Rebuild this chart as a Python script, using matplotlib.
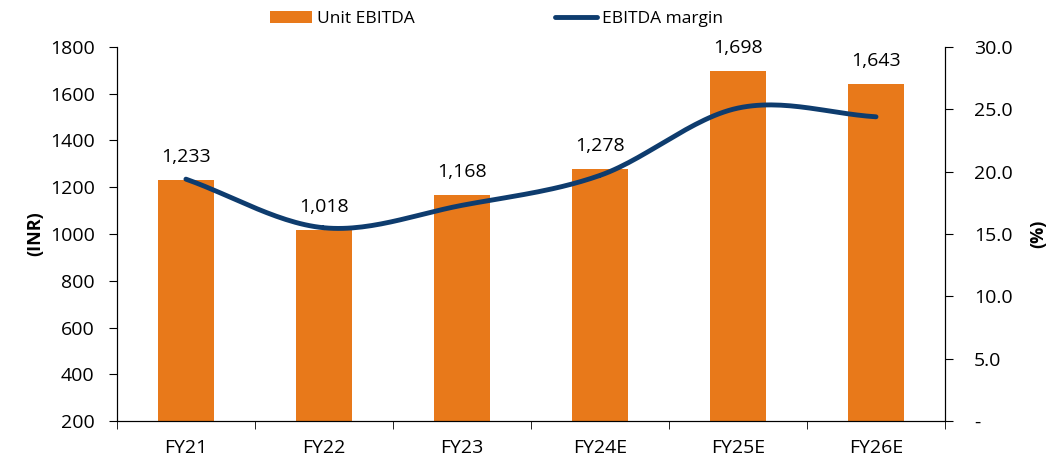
import numpy as np
import matplotlib
matplotlib.use("Agg")
import matplotlib.pyplot as plt
from matplotlib.ticker import FuncFormatter

plt.rcParams['font.family'] = ['Open Sans', 'DejaVu Sans']

years = ['FY21', 'FY22', 'FY23', 'FY24E', 'FY25E', 'FY26E']
unit_ebitda = [1233, 1018, 1168, 1278, 1698, 1643]
margin = [19.4, 15.5, 17.3, 19.7, 25.1, 24.4]

orange = '#E8791A'
navy = '#0E3C6E'


def smooth(xs, ys, n=30):
    # catmull-rom curve through the points, like excel's smoothed line
    xs = np.asarray(xs, float)
    ys = np.asarray(ys, float)
    px = np.concatenate([[2 * xs[0] - xs[1]], xs, [2 * xs[-1] - xs[-2]]])
    py = np.concatenate([[2 * ys[0] - ys[1]], ys, [2 * ys[-1] - ys[-2]]])
    ox, oy = [], []
    for i in range(1, len(px) - 2):
        t = np.linspace(0, 1, n)
        for p, out in ((px, ox), (py, oy)):
            p0, p1, p2, p3 = p[i - 1], p[i], p[i + 1], p[i + 2]
            out.extend(0.5 * (2 * p1 + (-p0 + p2) * t
                              + (2 * p0 - 5 * p1 + 4 * p2 - p3) * t ** 2
                              + (-p0 + 3 * p1 - 3 * p2 + p3) * t ** 3))
    return ox, oy


fs = 14
fig = plt.figure(figsize=(10.63, 4.63), dpi=100)
ax = fig.add_axes([0.110, 0.0907, 0.779, 0.8078])
x = np.arange(len(years))
ax.bar(x, unit_ebitda, width=0.4, color=orange, label='Unit EBITDA', zorder=2)
ax.set_ylim(200, 1800)
ax.set_xlim(-0.5, len(years) - 0.5)
ax.set_yticks(range(200, 1801, 200))
ax.set_xticks(x)
ax.set_xticklabels(years)
ax.set_xticks(np.arange(-0.5, len(years)), minor=True)
ax.tick_params(axis='x', which='major', length=0, labelsize=fs, pad=13)
ax.tick_params(axis='x', which='minor', length=6, direction='out')
ax.tick_params(axis='y', labelsize=fs, length=6, direction='out', pad=10)
ax.spines['top'].set_visible(False)
ax.set_ylabel('(INR)', fontsize=13, fontweight='bold', labelpad=4)
for xi, v in zip(x, unit_ebitda):
    ax.text(xi, v + 60, f'{v:,}', ha='center', va='bottom', fontsize=fs)

ax2 = ax.twinx()
sx, sy = smooth(x, margin)
ax2.plot(sx, sy, color=navy, lw=3.5, solid_capstyle='round', label='EBITDA margin', zorder=3)
ax2.set_ylim(0, 30)
ax2.set_yticks(np.arange(0, 31, 5))
ax2.yaxis.set_major_formatter(FuncFormatter(lambda v, p: '-' if v == 0 else f'{v:.1f}'))
ax2.tick_params(axis='y', labelsize=fs, length=6, direction='out', pad=15)
ax2.spines['top'].set_visible(False)
ax2.set_ylabel('(%)', fontsize=13, fontweight='bold', labelpad=12)

h1, l1 = ax.get_legend_handles_labels()
h2, l2 = ax2.get_legend_handles_labels()
fig.legend(h1 + h2, l1 + l2, loc='upper center', bbox_to_anchor=(0.467, 1.01), ncol=2,
           frameon=False, fontsize=12.5, columnspacing=8.1, handlelength=2.4,
           handletextpad=0.3)

fig.savefig('out.png', dpi=100)
